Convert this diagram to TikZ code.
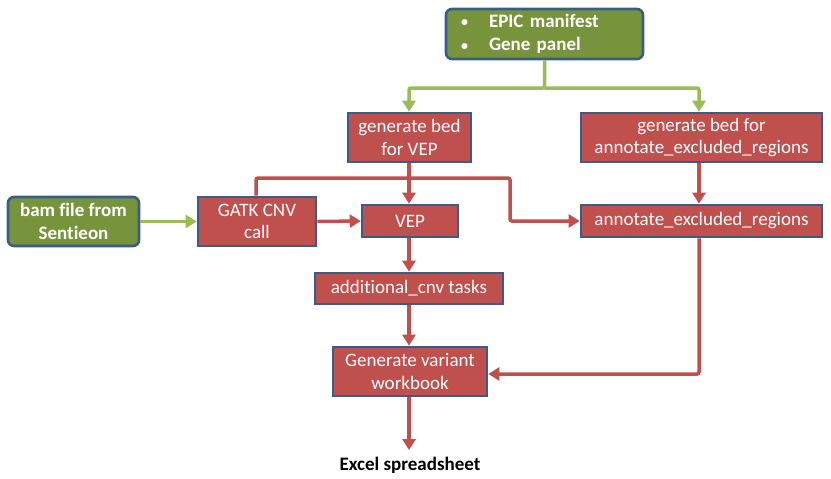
\documentclass[tikz,border=0pt]{standalone}
\usepackage{fontspec}
\setmainfont{Carlito}[Ligatures={NoCommon}]
\usetikzlibrary{arrows.meta}
\definecolor{boxred}{HTML}{C0504D}
\definecolor{boxgreen}{HTML}{77933C}
\definecolor{edgeblue}{HTML}{385D8A}
\definecolor{arrred}{HTML}{C0504D}
\definecolor{arrgreen}{HTML}{9BBB59}
\newcommand{\mybullet}{\makebox[29pt][l]{\hspace*{1pt}\raisebox{0.5pt}{\fontsize{14}{14}\selectfont•}}}
\tikzset{
  redbox/.style={draw=edgeblue, line width=2.6pt, fill=boxred, text=white, inner sep=0pt, align=center, font=\fontsize{19}{22.5}\selectfont},
  greenbox/.style={draw=edgeblue, line width=2.6pt, fill=boxgreen, text=white, rounded corners=6pt, inner sep=0pt, align=center, font=\bfseries\fontsize{19}{23.5}\selectfont},
  redarrow/.style={draw=arrred, line width=3.5pt, -{Triangle[length=11pt,width=13pt]}},
  greenarrow/.style={draw=arrgreen, line width=3.5pt, -{Triangle[length=11pt,width=13pt]}},
}
\begin{document}
\begin{tikzpicture}[x=1pt,y=-1pt]
\useasboundingbox (0,0) rectangle (831,479);
% nodes
\node[greenbox, text width=169pt, inner xsep=14pt, minimum height=50pt, align=left] (src) at (544.5,34) {\mybullet EPIC manifest\\\mybullet Gene panel};
\node[redbox, minimum width=123pt, minimum height=49pt] (bedvep) at (409.5,137.5) {generate bed\\for VEP};
\node[redbox, minimum width=241pt, minimum height=49pt] (bedann) at (701.5,137.5) {generate bed for\\annotate\_excluded\_regions};
\node[greenbox, minimum width=131pt, minimum height=49pt] (bam) at (73.5,221.5) {bam file from\\Sentieon};
\node[redbox, minimum width=118pt, minimum height=49pt] (gatk) at (257,221.5) {GATK CNV\\call};
\node[redbox, minimum width=96pt, minimum height=32pt] (vep) at (410,221) {VEP};
\node[redbox, minimum width=241pt, minimum height=32pt] (ann) at (701.5,221) {annotate\_excluded\_regions};
\node[redbox, minimum width=188pt, minimum height=31pt] (add) at (409,288.5) {additional\_cnv tasks};
\node[redbox, minimum width=154pt, minimum height=49pt] (wb) at (410,371.5) {Generate variant\\workbook};
\node[font=\bfseries\fontsize{19}{22}\selectfont, inner sep=0pt] (xls) at (410,465) {Excel spreadsheet};
\coordinate (xlsin) at (409,450);
% green connectors
\coordinate (gsplit) at (544.5,88);
\draw[greenarrow, rounded corners=2pt] (src.south) -- (gsplit) -| (bedvep.north -| 409,0);
\draw[greenarrow, rounded corners=2pt] (gsplit) -| (bedann.north -| 699,0);
\draw[greenarrow] (bam.east) -- (gatk.west);
% red connectors
\draw[redarrow] (bedvep.south -| 409,0) -- (vep.north -| 409,0);
\draw[redarrow] (bedann.south -| 699,0) -- (ann.north -| 699,0);
\draw[redarrow] (gatk.east) -- (vep.west);
\draw[redarrow, rounded corners=2pt] (gatk.north -| 256,0) -- (256,178) -- (510,178) -- (510,221) -- (ann.west);
\draw[redarrow] (vep.south -| 409,0) -- (add.north -| 409,0);
\draw[redarrow] (add.south -| 409,0) -- (wb.north -| 409,0);
\draw[redarrow, rounded corners=2pt] (ann.south -| 699,0) -- (699,374) -- (wb.east |- 0,374);
\draw[redarrow] (wb.south -| 409,0) -- (xlsin);
\end{tikzpicture}
\end{document}
